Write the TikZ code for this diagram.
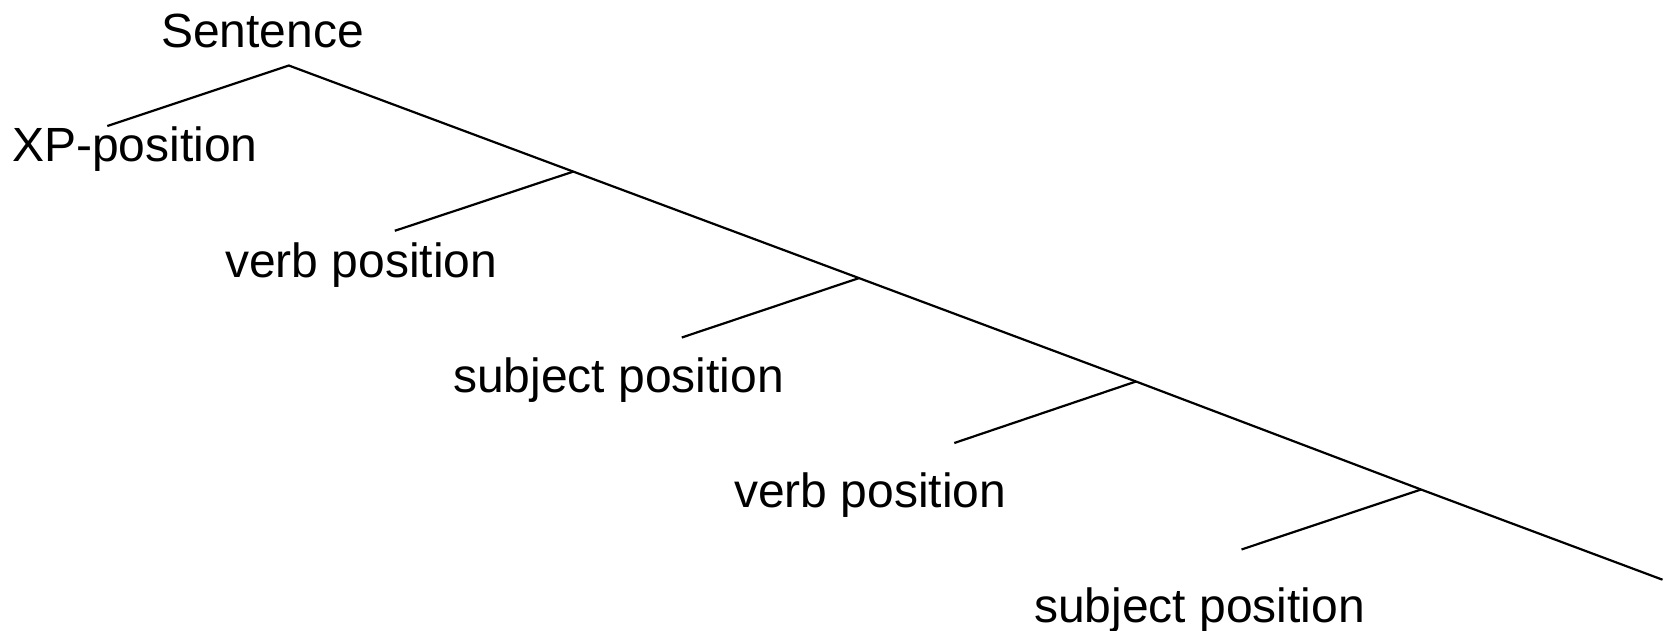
\documentclass[tikz,border=0pt]{standalone}
\usepackage{fontspec}
\setmainfont{Liberation Sans}
\begin{document}
\begin{tikzpicture}[x=1pt,y=-1pt,
  lbl/.style={anchor=base west,inner sep=0pt,font=\fontsize{48}{58}\selectfont},
  edge/.style={line width=2.2pt,line cap=butt}]
\useasboundingbox (0,0) rectangle (1671,631);
% tree points
\coordinate (s0) at (288.8,65.5);
\coordinate (xp) at (107.3,126);
\coordinate (n1) at (573.3,171.6);
\coordinate (n2) at (859.0,278.1);
\coordinate (n3) at (1136.0,381.5);
\coordinate (n4) at (1421.0,489.5);
\coordinate (end) at (1662.5,579.7);
\coordinate (b1) at (394.8,230.8);
\coordinate (b2) at (681.8,337.5);
\coordinate (b3) at (954.3,443.0);
\coordinate (b4) at (1241.5,549.5);
% labels
\node[lbl] (sent) at (161,47.5) {Sentence};
\node[lbl] (xplab) at (12,161.5) {XP-position};
\node[lbl] (v1) at (225,277) {verb position};
\node[lbl] (sub1) at (453,392.3) {subject position};
\node[lbl] (v2) at (734,507.6) {verb position};
\node[lbl] (sub2) at (1034,622.5) {subject position};
% lines
\draw[edge] (xp) -- (s0) -- (n1) -- (n2) -- (n3) -- (n4) -- (end);
\draw[edge] (n1) -- (b1);
\draw[edge] (n2) -- (b2);
\draw[edge] (n3) -- (b3);
\draw[edge] (n4) -- (b4);
\end{tikzpicture}
\end{document}
